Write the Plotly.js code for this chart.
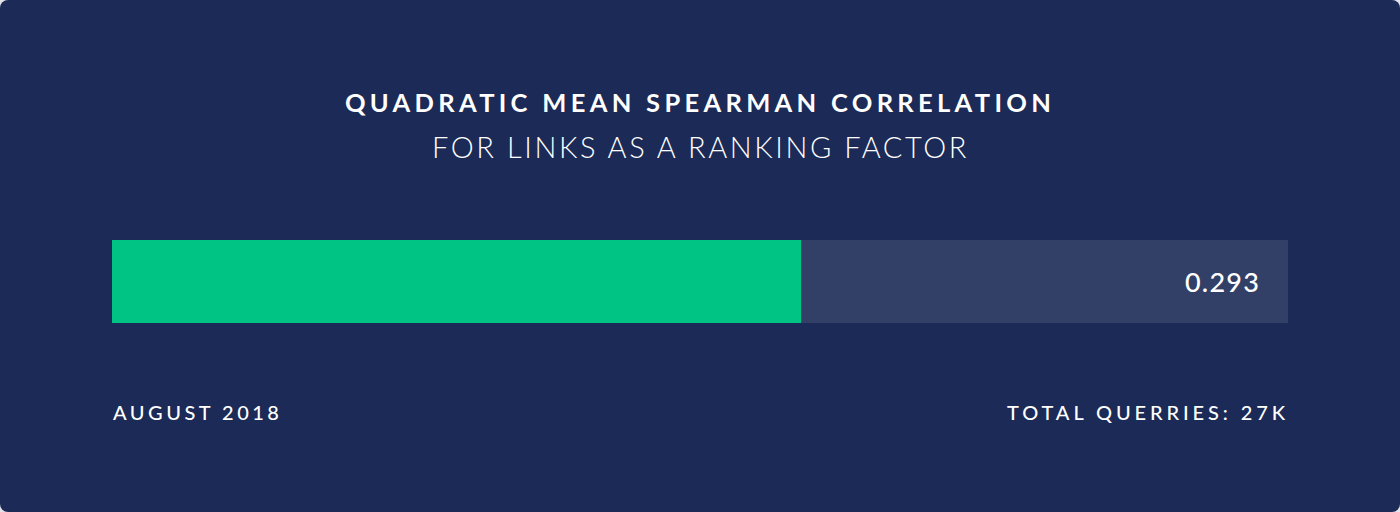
<!DOCTYPE html>
<html>
<head>
<meta charset="utf-8">
<script src="https://cdn.plot.ly/plotly-3.0.1.min.js"></script>
<style>
  html, body { margin: 0; padding: 0; background: #e4e5ea; }
  #chart { width: 1400px; height: 512px; border-radius: 8px; overflow: hidden; }
</style>
</head>
<body>
<div id="chart"></div>
<script>
// values
var metric = ["Links"];
var correlation = [0.293];
var scaleMax = [0.5];
var titleText = "QUADRATIC MEAN SPEARMAN CORRELATION";
var subtitleText = "FOR LINKS AS A RANKING FACTOR";
var dateLabel = "AUGUST 2018";
var queriesLabel = "TOTAL QUERRIES: 27K";

var navy = "#1b2a56";
var fontFam = "Lato, 'Open Sans', sans-serif";

// plotly measures inline styles, so spacing goes in a span
function spaced(txt, px) {
    return '<span style="letter-spacing:' + px + 'px">' + txt + '</span>';
}

var track = {
    type: "bar",
    orientation: "h",
    y: metric,
    x: scaleMax,
    width: 1,
    marker: {color: "#323f66"},
    hoverinfo: "skip"
};

var value = {
    type: "bar",
    orientation: "h",
    y: metric,
    x: correlation,
    width: 1,
    marker: {color: "#00c484"},
    hoverinfo: "skip"
};

var layout = {
    width: 1400,
    height: 512,
    paper_bgcolor: navy,
    plot_bgcolor: navy,
    showlegend: false,
    barmode: "overlay",
    margin: {l: 112, r: 112, t: 240, b: 189, pad: 0},
    title: {
        text: spaced(titleText, 4.3),
        font: {family: fontFam, size: 25.5, color: "#ffffff", weight: 700},
        x: 0.5, xanchor: "center",
        y: 1 - 103 / 512, yref: "container", yanchor: "middle"
    },
    xaxis: {range: [0, scaleMax[0]], visible: false, fixedrange: true},
    yaxis: {range: [-0.5, 0.5], visible: false, fixedrange: true},
    annotations: [
        {
            text: spaced(subtitleText, 2.6),
            xref: "paper", yref: "paper", x: 0.5, y: (323 - 146) / 83,
            xanchor: "center", yanchor: "middle", showarrow: false,
            font: {family: fontFam, size: 29, color: "#ffffff", weight: 300}
        },
        {
            text: spaced(correlation[0].toFixed(3), 1.2),
            xref: "x", yref: "y", x: scaleMax[0], y: 0, xshift: -26,
            xanchor: "right", yanchor: "middle", showarrow: false,
            font: {family: fontFam, size: 27, color: "#ffffff", weight: 500}
        },
        {
            text: spaced(dateLabel, 3.5),
            xref: "paper", yref: "paper", x: 0, y: (323 - 412) / 83, xshift: -1,
            xanchor: "left", yanchor: "middle", showarrow: false,
            font: {family: fontFam, size: 20, color: "#ffffff", weight: 500}
        },
        {
            text: spaced(queriesLabel, 3.9),
            xref: "paper", yref: "paper", x: 1, y: (323 - 412) / 83, xshift: 3,
            xanchor: "right", yanchor: "middle", showarrow: false,
            font: {family: fontFam, size: 20, color: "#ffffff", weight: 500}
        }
    ]
};

Plotly.newPlot("chart", [track, value], layout, {displayModeBar: false, staticPlot: true});
</script>
</body>
</html>
